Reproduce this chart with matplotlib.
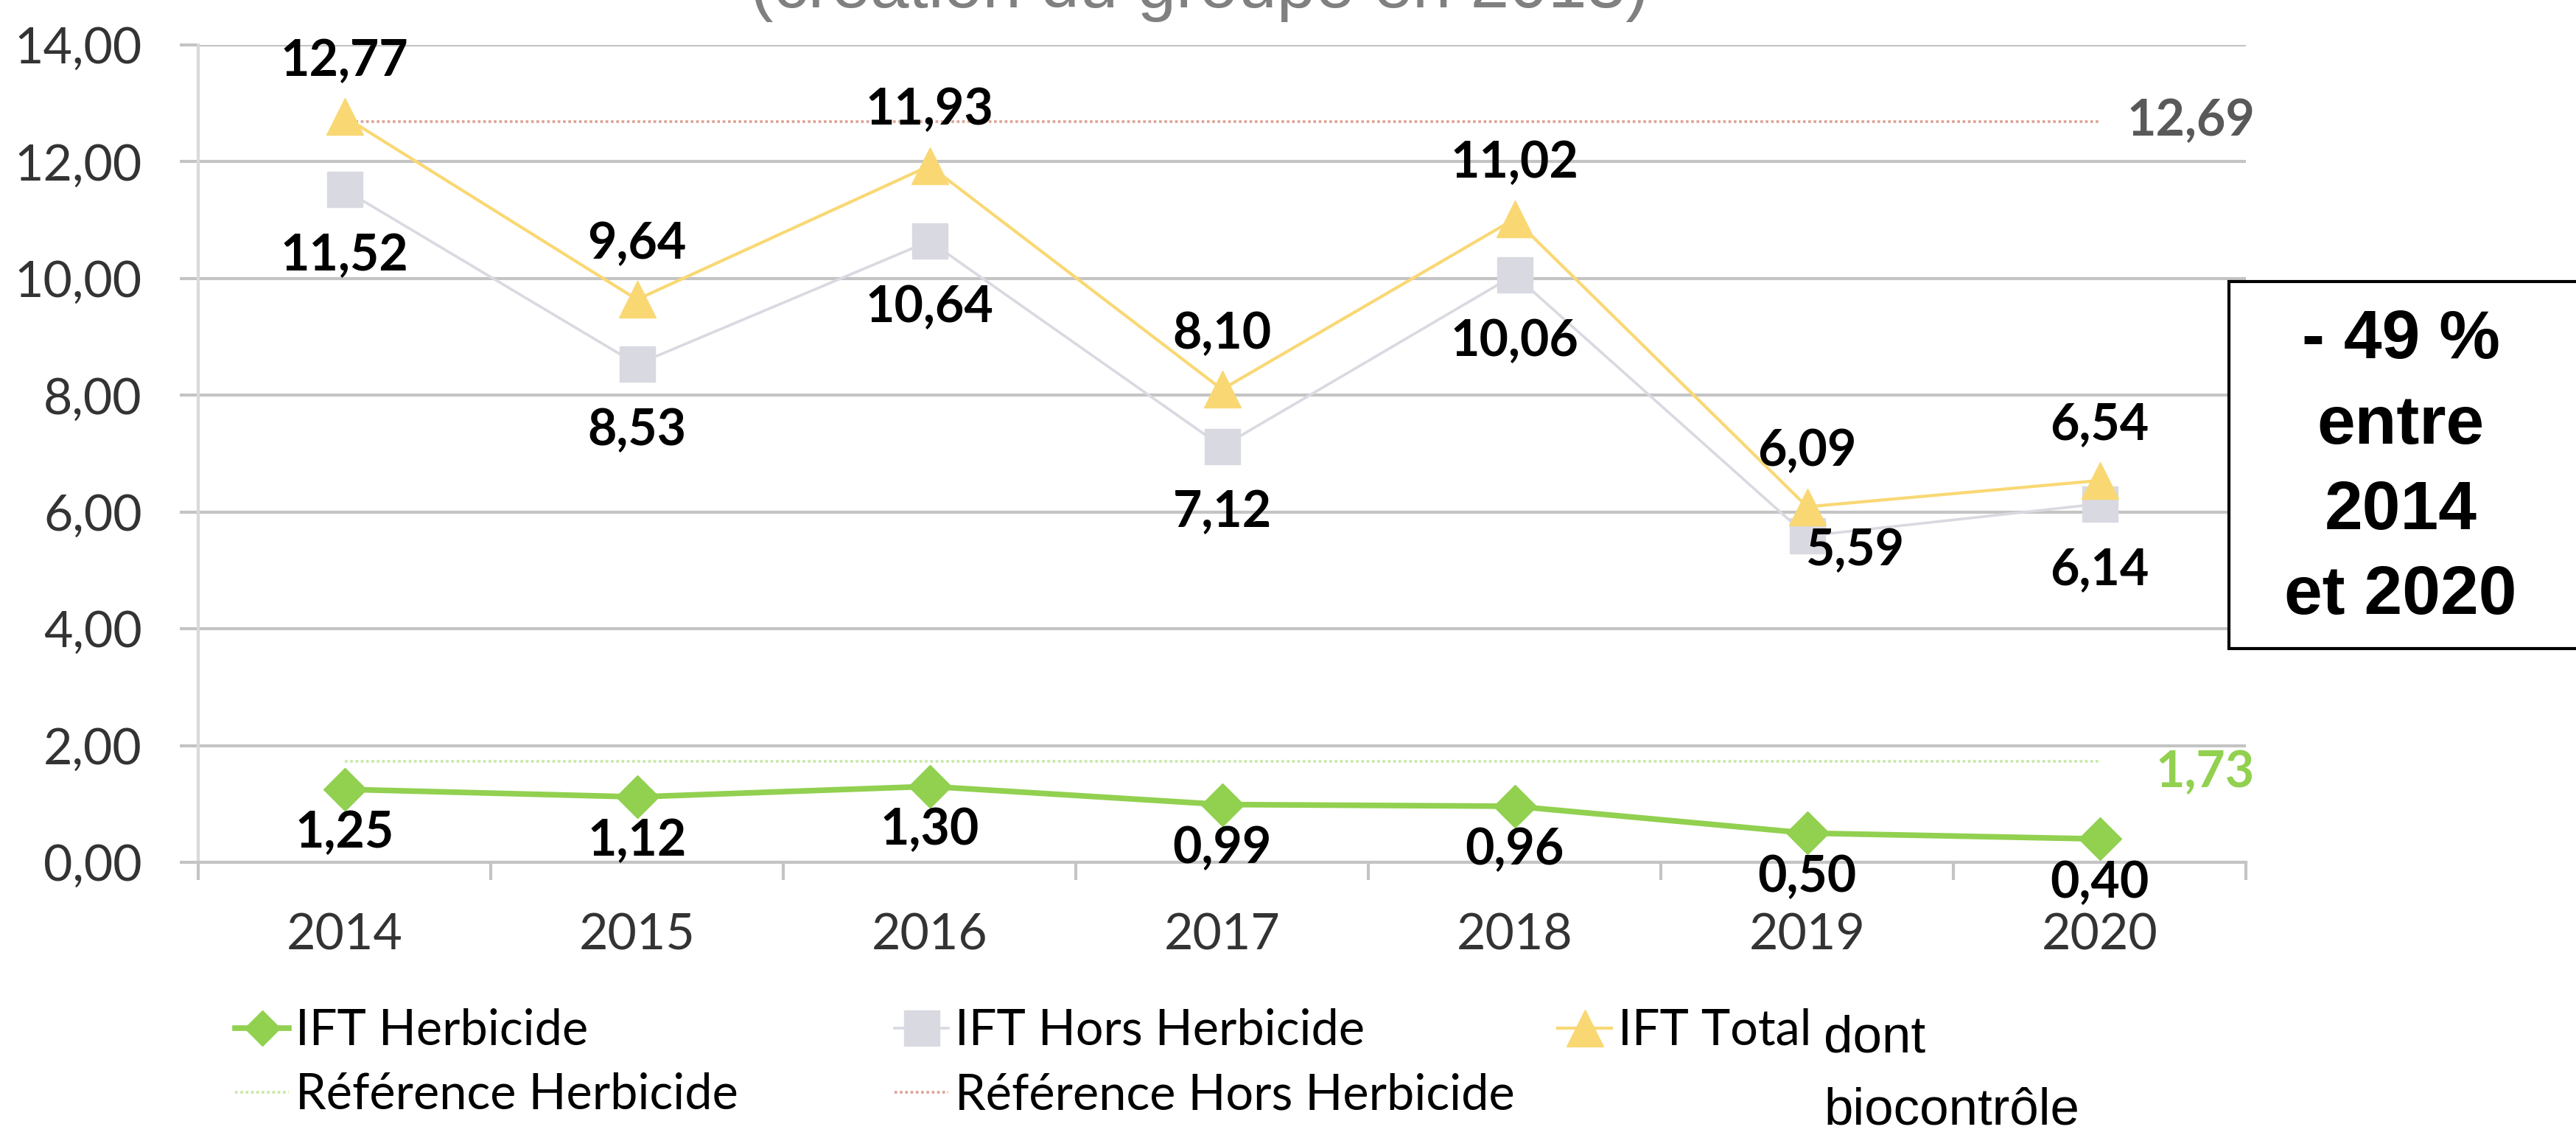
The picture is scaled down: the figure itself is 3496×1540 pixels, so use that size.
import matplotlib
matplotlib.use("Agg")
import matplotlib.pyplot as plt
from matplotlib.lines import Line2D
from matplotlib.patches import Rectangle
import numpy as np

years = ['2014', '2015', '2016', '2017', '2018', '2019', '2020']
ift_herbicide = [1.25, 1.12, 1.30, 0.99, 0.96, 0.50, 0.40]
ift_hors_herbicide = [11.52, 8.53, 10.64, 7.12, 10.06, 5.59, 6.14]
ift_total = [12.77, 9.64, 11.93, 8.10, 11.02, 6.09, 6.54]
ref_herbicide = 1.73
ref_hors_herbicide = 12.69

GREEN = '#92D050'
GREY = '#D9D9E1'
YELLOW = '#F9D874'
GRID = '#C4C4C4'
FONT = 'Lato'
W, H = 3496, 1540


def fmt(v):
    return f"{v:.2f}".replace('.', ',')


fig = plt.figure(figsize=(W / 100, H / 100), dpi=100)
ax = fig.add_axes([269 / W, 1 - 1170 / H, (3048 - 269) / W, (1170 - 61) / H])

x = np.arange(len(years))

# reference lines (dotted)
ax.plot([x[0], x[-1]], [ref_hors_herbicide] * 2, color='#DDA296', lw=2.6,
        linestyle=(0, (1, 1)), zorder=2)
ax.plot([x[0], x[-1]], [ref_herbicide] * 2, color='#C8E8A6', lw=2.6,
        linestyle=(0, (1, 1)), zorder=2)

# series
ax.plot(x, ift_hors_herbicide, color=GREY, lw=2.6, marker='s', ms=34,
        mec=GREY, mfc=GREY, zorder=3)
ax.plot(x, ift_total, color=YELLOW, lw=3, marker='^', ms=36,
        mec=YELLOW, mfc=YELLOW, zorder=4)
ax.plot(x, ift_herbicide, color=GREEN, lw=5.5, marker='D', ms=30,
        mec=GREEN, mfc=GREEN, zorder=5)

lab = dict(fontsize=49, fontweight='bold', family=FONT, color='black',
           ha='center', va='center', textcoords='offset pixels', zorder=6)
for i, v in enumerate(ift_total):
    ax.annotate(fmt(v), (x[i], v), xytext=(0, 75), **lab)
for i, v in enumerate(ift_hors_herbicide):
    off = (65, -20) if years[i] == '2019' else (0, -90)
    ax.annotate(fmt(v), (x[i], v), xytext=off, **lab)
for i, v in enumerate(ift_herbicide):
    ax.annotate(fmt(v), (x[i], v), xytext=(0, -60), **lab)

ax.text(6.53, ref_hors_herbicide, fmt(ref_hors_herbicide), ha='right', va='center',
        fontsize=49, fontweight='bold', family=FONT, color='#595959')
ax.text(6.53, ref_herbicide - 0.2, fmt(ref_herbicide), ha='right', va='center',
        fontsize=49, fontweight='bold', family=FONT, color=GREEN)

# axes styling
ax.set_xlim(-0.5, 6.5)
ax.set_ylim(0, 14)
ax.set_yticks(np.arange(0, 15, 2))
ax.set_yticklabels([fmt(v) for v in np.arange(0, 15, 2)])
ax.set_xticks(x)
ax.set_xticklabels(years)
ax.set_xticks(np.arange(-0.5, 7, 1), minor=True)
ax.grid(axis='y', color=GRID, lw=3)
ax.set_axisbelow(True)
for s in ['top', 'right']:
    ax.spines[s].set_visible(False)
ax.spines['left'].set_color('#D9D9D9')
ax.spines['left'].set_linewidth(3)
ax.spines['bottom'].set_color(GRID)
ax.spines['bottom'].set_linewidth(3)
ax.tick_params(axis='y', length=18, width=3, color=GRID, pad=37,
               labelsize=49, labelcolor='#333333')
ax.tick_params(axis='x', which='major', length=0, pad=49,
               labelsize=49, labelcolor='#333333')
ax.tick_params(axis='x', which='minor', length=17, width=3, color=GRID)
for t in ax.get_xticklabels() + ax.get_yticklabels():
    t.set_family(FONT)

# title (cut by the top edge, as in the original)
fig.text(1628 / W, 1 - 10 / H, "(création du groupe en 2013)", ha='center',
         va='baseline', fontsize=68, color='#808080', family='Liberation Sans')

# legend, three columns
h_herb = Line2D([], [], color=GREEN, lw=5.5, marker='D', ms=24, mec=GREEN, mfc=GREEN)
h_hors = Line2D([], [], color=GREY, lw=2.6, marker='s', ms=34, mec=GREY, mfc=GREY)
h_total = Line2D([], [], color=YELLOW, lw=3, marker='^', ms=36, mec=YELLOW, mfc=YELLOW)
h_refherb = Line2D([], [], color='#C8E8A6', lw=2.6, linestyle=(0, (1, 1)))
h_refhors = Line2D([], [], color='#DDA296', lw=2.6, linestyle=(0, (1, 1)))

cols = [([h_herb, h_refherb], ['IFT Herbicide', 'Référence Herbicide'], 319),
        ([h_hors, h_refhors], ['IFT Hors Herbicide', 'Référence Hors Herbicide'], 1214),
        ([h_total], ['IFT Total'], 2114)]
for hs, ls, x0 in cols:
    leg = fig.legend(hs, ls, loc='upper left', bbox_to_anchor=(x0 / W, 1 - 1368 / H),
                     frameon=False, borderpad=0, borderaxespad=0, handlelength=1.1,
                     handletextpad=0.13, labelspacing=0.38,
                     prop={'family': FONT, 'size': 48})
    for t in leg.get_texts():
        t.set_color('black')

fig.text(2475 / W, 1 - 1428 / H, "dont", ha='left', va='baseline',
         fontsize=51, family='Liberation Sans', color='black')
fig.text(2475 / W, 1 - 1526 / H, "biocontrôle", ha='left', va='baseline',
         fontsize=51, family='Liberation Sans', color='black')

# box on the right
fig.patches.append(Rectangle((3025 / W, 1 - 880 / H), 0.2, (880 - 382) / H,
                             transform=fig.transFigure, facecolor='white',
                             edgecolor='black', lw=3, zorder=10))
box_lines = ['- 49 %', 'entre', '2014', 'et 2020']
for line, yb in zip(box_lines, [486, 602, 718, 833]):
    fig.text(3258 / W, 1 - yb / H, line, ha='center', va='baseline', fontsize=67,
             fontweight='bold', family='Liberation Sans', color='black', zorder=11)

fig.savefig('out.png', dpi=100)
